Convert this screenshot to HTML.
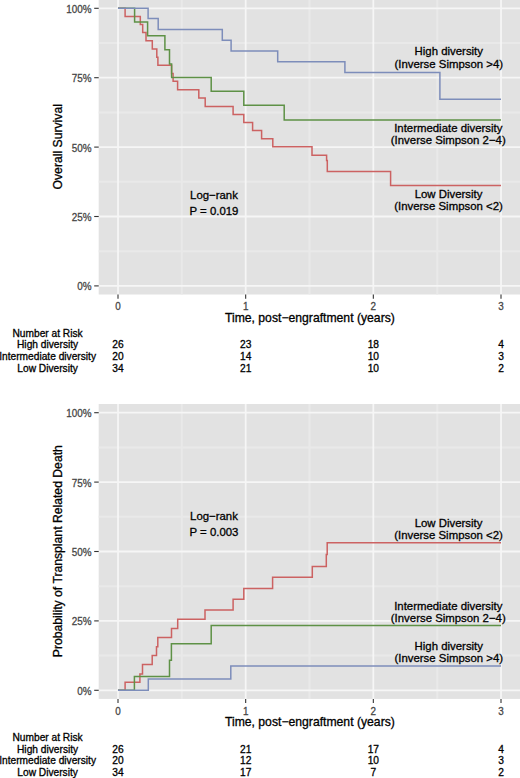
<!DOCTYPE html>
<html><head><meta charset="utf-8"><title>Survival curves</title>
<style>
html,body{margin:0;padding:0;background:#fff;}
body{width:520px;height:778px;overflow:hidden;}
svg{display:block;font-family:"Liberation Sans",sans-serif;}
.ax{font-size:9.9px;fill:#444444;stroke:#444444;stroke-width:0.25px;}
.ti{font-size:12.2px;fill:#000;stroke:#000;stroke-width:0.3px;}
.an{font-size:11.4px;fill:#000;stroke:#000;stroke-width:0.3px;}
.rk{font-size:10.2px;fill:#000;stroke:#000;stroke-width:0.3px;}
</style></head>
<body>
<svg width="520" height="778" viewBox="0 0 520 778">
<rect x="0" y="0" width="520" height="778" fill="#fff"/>
<rect x="98.7" y="-0.4" width="421.3" height="294.9" fill="#E2E2E2"/>
<line x1="98.7" x2="520.0" y1="251.20" y2="251.20" stroke="#E9E9E9" stroke-width="2.0"/>
<line x1="98.7" x2="520.0" y1="181.80" y2="181.80" stroke="#E9E9E9" stroke-width="2.0"/>
<line x1="98.7" x2="520.0" y1="112.40" y2="112.40" stroke="#E9E9E9" stroke-width="2.0"/>
<line x1="98.7" x2="520.0" y1="43.00" y2="43.00" stroke="#E9E9E9" stroke-width="2.0"/>
<line x1="181.83" x2="181.83" y1="-0.4" y2="294.5" stroke="#E9E9E9" stroke-width="2.0"/>
<line x1="309.50" x2="309.50" y1="-0.4" y2="294.5" stroke="#E9E9E9" stroke-width="2.0"/>
<line x1="437.17" x2="437.17" y1="-0.4" y2="294.5" stroke="#E9E9E9" stroke-width="2.0"/>
<line x1="98.7" x2="520.0" y1="285.90" y2="285.90" stroke="#F6F6F6" stroke-width="1.8"/>
<line x1="98.7" x2="520.0" y1="216.50" y2="216.50" stroke="#F6F6F6" stroke-width="1.8"/>
<line x1="98.7" x2="520.0" y1="147.10" y2="147.10" stroke="#F6F6F6" stroke-width="1.8"/>
<line x1="98.7" x2="520.0" y1="77.70" y2="77.70" stroke="#F6F6F6" stroke-width="1.8"/>
<line x1="98.7" x2="520.0" y1="8.30" y2="8.30" stroke="#F6F6F6" stroke-width="1.8"/>
<line x1="118.00" x2="118.00" y1="-0.4" y2="294.5" stroke="#F6F6F6" stroke-width="1.8"/>
<line x1="245.67" x2="245.67" y1="-0.4" y2="294.5" stroke="#F6F6F6" stroke-width="1.8"/>
<line x1="373.33" x2="373.33" y1="-0.4" y2="294.5" stroke="#F6F6F6" stroke-width="1.8"/>
<line x1="501.00" x2="501.00" y1="-0.4" y2="294.5" stroke="#F6F6F6" stroke-width="1.8"/>
<path d="M118.00,8.30 L125.10,8.30 L125.10,16.50 L140.30,16.50 L140.30,24.40 L142.70,24.40 L142.70,32.50 L146.00,32.50 L146.00,40.70 L152.30,40.70 L152.30,49.00 L156.80,49.00 L156.80,57.20 L157.90,57.20 L157.90,65.30 L171.60,65.30 L171.60,73.40 L173.10,73.40 L173.10,81.30 L177.60,81.30 L177.60,89.80 L198.80,89.80 L198.80,98.00 L205.20,98.00 L205.20,106.40 L233.10,106.40 L233.10,114.40 L243.80,114.40 L243.80,122.40 L252.60,122.40 L252.60,130.60 L261.60,130.60 L261.60,138.70 L272.80,138.70 L272.80,146.70 L312.00,146.70 L312.00,155.20 L326.60,155.20 L326.60,160.50 L327.30,160.50 L327.30,171.40 L390.60,171.40 L390.60,185.60 L501.00,185.60" fill="none" stroke="#CC6262" stroke-width="1.5" stroke-linejoin="miter" stroke-linecap="butt"/>
<path d="M118.00,8.30 L134.60,8.30 L134.60,22.00 L147.60,22.00 L147.60,35.70 L164.90,35.70 L164.90,49.70 L169.50,49.70 L169.50,64.00 L171.60,64.00 L171.60,77.60 L211.20,77.60 L211.20,91.30 L243.80,91.30 L243.80,105.30 L284.20,105.30 L284.20,120.10 L501.00,120.10" fill="none" stroke="#5E9146" stroke-width="1.5" stroke-linejoin="miter" stroke-linecap="butt"/>
<path d="M118.00,8.30 L148.10,8.30 L148.10,18.40 L158.20,18.40 L158.20,29.50 L222.30,29.50 L222.30,40.20 L231.10,40.20 L231.10,50.90 L277.70,50.90 L277.70,61.80 L344.90,61.80 L344.90,72.60 L439.90,72.60 L439.90,99.20 L501.00,99.20" fill="none" stroke="#7D8DBA" stroke-width="1.5" stroke-linejoin="miter" stroke-linecap="butt"/>
<line x1="94.2" x2="98.7" y1="285.90" y2="285.90" stroke="#333333" stroke-width="1.1"/>
<text transform="translate(91.6,290.35) scale(1,1.17)" text-anchor="end" class="ax">0%</text>
<line x1="94.2" x2="98.7" y1="216.50" y2="216.50" stroke="#333333" stroke-width="1.1"/>
<text transform="translate(91.6,220.95) scale(1,1.17)" text-anchor="end" class="ax">25%</text>
<line x1="94.2" x2="98.7" y1="147.10" y2="147.10" stroke="#333333" stroke-width="1.1"/>
<text transform="translate(91.6,151.55) scale(1,1.17)" text-anchor="end" class="ax">50%</text>
<line x1="94.2" x2="98.7" y1="77.70" y2="77.70" stroke="#333333" stroke-width="1.1"/>
<text transform="translate(91.6,82.15) scale(1,1.17)" text-anchor="end" class="ax">75%</text>
<line x1="94.2" x2="98.7" y1="8.30" y2="8.30" stroke="#333333" stroke-width="1.1"/>
<text transform="translate(91.6,12.75) scale(1,1.17)" text-anchor="end" class="ax">100%</text>
<line x1="118.00" x2="118.00" y1="294.5" y2="298.70" stroke="#333333" stroke-width="1.1"/>
<text transform="translate(118.00,310.10) scale(1,1.17)" text-anchor="middle" class="ax">0</text>
<line x1="245.67" x2="245.67" y1="294.5" y2="298.70" stroke="#333333" stroke-width="1.1"/>
<text transform="translate(245.67,310.10) scale(1,1.17)" text-anchor="middle" class="ax">1</text>
<line x1="373.33" x2="373.33" y1="294.5" y2="298.70" stroke="#333333" stroke-width="1.1"/>
<text transform="translate(373.33,310.10) scale(1,1.17)" text-anchor="middle" class="ax">2</text>
<line x1="501.00" x2="501.00" y1="294.5" y2="298.70" stroke="#333333" stroke-width="1.1"/>
<text transform="translate(501.00,310.10) scale(1,1.17)" text-anchor="middle" class="ax">3</text>
<text x="309.9" y="321.70" text-anchor="middle" class="ti">Time, post−engraftment (years)</text>
<text transform="translate(62.0,146.80) rotate(-90)" x="0" y="0" text-anchor="middle" class="ti">Overall Survival</text>
<text x="214.0" y="198.5" text-anchor="middle" class="an">Log−rank</text>
<text x="214.0" y="214.6" text-anchor="middle" class="an">P = 0.019</text>
<text x="448.8" y="55.4" text-anchor="middle" class="an">High diversity</text>
<text x="448.8" y="67.6" text-anchor="middle" class="an">(Inverse Simpson &gt;4)</text>
<text x="448.3" y="132.1" text-anchor="middle" class="an">Intermediate diversity</text>
<text x="448.3" y="144.0" text-anchor="middle" class="an">(Inverse Simpson 2−4)</text>
<text x="448.5" y="197.5" text-anchor="middle" class="an">Low Diversity</text>
<text x="448.5" y="209.8" text-anchor="middle" class="an">(Inverse Simpson &lt;2)</text>
<text x="47.6" y="336.50" text-anchor="middle" class="rk">Number at Risk</text>
<text x="47.6" y="348.20" text-anchor="middle" class="rk">High diversity</text>
<text x="47.6" y="359.90" text-anchor="middle" class="rk">Intermediate diversity</text>
<text x="47.6" y="371.60" text-anchor="middle" class="rk">Low Diversity</text>
<text x="118.00" y="348.20" text-anchor="middle" class="rk">26</text>
<text x="245.67" y="348.20" text-anchor="middle" class="rk">23</text>
<text x="373.33" y="348.20" text-anchor="middle" class="rk">18</text>
<text x="501.00" y="348.20" text-anchor="middle" class="rk">4</text>
<text x="118.00" y="359.90" text-anchor="middle" class="rk">20</text>
<text x="245.67" y="359.90" text-anchor="middle" class="rk">14</text>
<text x="373.33" y="359.90" text-anchor="middle" class="rk">10</text>
<text x="501.00" y="359.90" text-anchor="middle" class="rk">3</text>
<text x="118.00" y="371.60" text-anchor="middle" class="rk">34</text>
<text x="245.67" y="371.60" text-anchor="middle" class="rk">21</text>
<text x="373.33" y="371.60" text-anchor="middle" class="rk">10</text>
<text x="501.00" y="371.60" text-anchor="middle" class="rk">2</text>
<rect x="98.7" y="404.0" width="421.3" height="294.9" fill="#E2E2E2"/>
<line x1="98.7" x2="520.0" y1="655.60" y2="655.60" stroke="#E9E9E9" stroke-width="2.0"/>
<line x1="98.7" x2="520.0" y1="586.20" y2="586.20" stroke="#E9E9E9" stroke-width="2.0"/>
<line x1="98.7" x2="520.0" y1="516.80" y2="516.80" stroke="#E9E9E9" stroke-width="2.0"/>
<line x1="98.7" x2="520.0" y1="447.40" y2="447.40" stroke="#E9E9E9" stroke-width="2.0"/>
<line x1="181.83" x2="181.83" y1="404.0" y2="698.9" stroke="#E9E9E9" stroke-width="2.0"/>
<line x1="309.50" x2="309.50" y1="404.0" y2="698.9" stroke="#E9E9E9" stroke-width="2.0"/>
<line x1="437.17" x2="437.17" y1="404.0" y2="698.9" stroke="#E9E9E9" stroke-width="2.0"/>
<line x1="98.7" x2="520.0" y1="690.30" y2="690.30" stroke="#F6F6F6" stroke-width="1.8"/>
<line x1="98.7" x2="520.0" y1="620.90" y2="620.90" stroke="#F6F6F6" stroke-width="1.8"/>
<line x1="98.7" x2="520.0" y1="551.50" y2="551.50" stroke="#F6F6F6" stroke-width="1.8"/>
<line x1="98.7" x2="520.0" y1="482.10" y2="482.10" stroke="#F6F6F6" stroke-width="1.8"/>
<line x1="98.7" x2="520.0" y1="412.70" y2="412.70" stroke="#F6F6F6" stroke-width="1.8"/>
<line x1="118.00" x2="118.00" y1="404.0" y2="698.9" stroke="#F6F6F6" stroke-width="1.8"/>
<line x1="245.67" x2="245.67" y1="404.0" y2="698.9" stroke="#F6F6F6" stroke-width="1.8"/>
<line x1="373.33" x2="373.33" y1="404.0" y2="698.9" stroke="#F6F6F6" stroke-width="1.8"/>
<line x1="501.00" x2="501.00" y1="404.0" y2="698.9" stroke="#F6F6F6" stroke-width="1.8"/>
<path d="M118.00,690.30 L125.10,690.30 L125.10,682.30 L139.90,682.30 L139.90,674.00 L142.50,674.00 L142.50,664.60 L152.20,664.60 L152.20,655.60 L156.50,655.60 L156.50,646.80 L157.80,646.80 L157.80,637.40 L171.50,637.40 L171.50,628.50 L177.70,628.50 L177.70,619.20 L205.00,619.20 L205.00,610.00 L233.10,610.00 L233.10,599.20 L243.80,599.20 L243.80,588.50 L272.60,588.50 L272.60,577.20 L312.30,577.20 L312.30,566.60 L326.30,566.60 L326.30,554.50 L327.20,554.50 L327.20,542.80 L501.00,542.80" fill="none" stroke="#CC6262" stroke-width="1.5" stroke-linejoin="miter" stroke-linecap="butt"/>
<path d="M118.00,690.30 L134.40,690.30 L134.40,676.60 L169.50,676.60 L169.50,660.20 L171.40,660.20 L171.40,643.70 L211.20,643.70 L211.20,625.50 L501.00,625.50" fill="none" stroke="#5E9146" stroke-width="1.5" stroke-linejoin="miter" stroke-linecap="butt"/>
<path d="M118.00,690.30 L148.30,690.30 L148.30,679.00 L230.80,679.00 L230.80,666.00 L501.00,666.00" fill="none" stroke="#7D8DBA" stroke-width="1.5" stroke-linejoin="miter" stroke-linecap="butt"/>
<line x1="94.2" x2="98.7" y1="690.30" y2="690.30" stroke="#333333" stroke-width="1.1"/>
<text transform="translate(91.6,694.75) scale(1,1.17)" text-anchor="end" class="ax">0%</text>
<line x1="94.2" x2="98.7" y1="620.90" y2="620.90" stroke="#333333" stroke-width="1.1"/>
<text transform="translate(91.6,625.35) scale(1,1.17)" text-anchor="end" class="ax">25%</text>
<line x1="94.2" x2="98.7" y1="551.50" y2="551.50" stroke="#333333" stroke-width="1.1"/>
<text transform="translate(91.6,555.95) scale(1,1.17)" text-anchor="end" class="ax">50%</text>
<line x1="94.2" x2="98.7" y1="482.10" y2="482.10" stroke="#333333" stroke-width="1.1"/>
<text transform="translate(91.6,486.55) scale(1,1.17)" text-anchor="end" class="ax">75%</text>
<line x1="94.2" x2="98.7" y1="412.70" y2="412.70" stroke="#333333" stroke-width="1.1"/>
<text transform="translate(91.6,417.15) scale(1,1.17)" text-anchor="end" class="ax">100%</text>
<line x1="118.00" x2="118.00" y1="698.9" y2="703.10" stroke="#333333" stroke-width="1.1"/>
<text transform="translate(118.00,714.50) scale(1,1.17)" text-anchor="middle" class="ax">0</text>
<line x1="245.67" x2="245.67" y1="698.9" y2="703.10" stroke="#333333" stroke-width="1.1"/>
<text transform="translate(245.67,714.50) scale(1,1.17)" text-anchor="middle" class="ax">1</text>
<line x1="373.33" x2="373.33" y1="698.9" y2="703.10" stroke="#333333" stroke-width="1.1"/>
<text transform="translate(373.33,714.50) scale(1,1.17)" text-anchor="middle" class="ax">2</text>
<line x1="501.00" x2="501.00" y1="698.9" y2="703.10" stroke="#333333" stroke-width="1.1"/>
<text transform="translate(501.00,714.50) scale(1,1.17)" text-anchor="middle" class="ax">3</text>
<text x="309.9" y="726.10" text-anchor="middle" class="ti">Time, post−engraftment (years)</text>
<text transform="translate(62.0,551.20) rotate(-90)" x="0" y="0" text-anchor="middle" class="ti">Probability of Transplant Related Death</text>
<text x="214.0" y="519.5" text-anchor="middle" class="an">Log−rank</text>
<text x="214.0" y="535.7" text-anchor="middle" class="an">P = 0.003</text>
<text x="448.5" y="526.8" text-anchor="middle" class="an">Low Diversity</text>
<text x="448.5" y="538.7" text-anchor="middle" class="an">(Inverse Simpson &lt;2)</text>
<text x="448.3" y="609.8" text-anchor="middle" class="an">Intermediate diversity</text>
<text x="448.3" y="621.8" text-anchor="middle" class="an">(Inverse Simpson 2−4)</text>
<text x="448.8" y="649.8" text-anchor="middle" class="an">High diversity</text>
<text x="448.8" y="661.8" text-anchor="middle" class="an">(Inverse Simpson &gt;4)</text>
<text x="47.6" y="740.90" text-anchor="middle" class="rk">Number at Risk</text>
<text x="47.6" y="752.60" text-anchor="middle" class="rk">High diversity</text>
<text x="47.6" y="764.30" text-anchor="middle" class="rk">Intermediate diversity</text>
<text x="47.6" y="776.00" text-anchor="middle" class="rk">Low Diversity</text>
<text x="118.00" y="752.60" text-anchor="middle" class="rk">26</text>
<text x="245.67" y="752.60" text-anchor="middle" class="rk">21</text>
<text x="373.33" y="752.60" text-anchor="middle" class="rk">17</text>
<text x="501.00" y="752.60" text-anchor="middle" class="rk">4</text>
<text x="118.00" y="764.30" text-anchor="middle" class="rk">20</text>
<text x="245.67" y="764.30" text-anchor="middle" class="rk">12</text>
<text x="373.33" y="764.30" text-anchor="middle" class="rk">10</text>
<text x="501.00" y="764.30" text-anchor="middle" class="rk">3</text>
<text x="118.00" y="776.00" text-anchor="middle" class="rk">34</text>
<text x="245.67" y="776.00" text-anchor="middle" class="rk">17</text>
<text x="373.33" y="776.00" text-anchor="middle" class="rk">7</text>
<text x="501.00" y="776.00" text-anchor="middle" class="rk">2</text>
</svg>
</body></html>
